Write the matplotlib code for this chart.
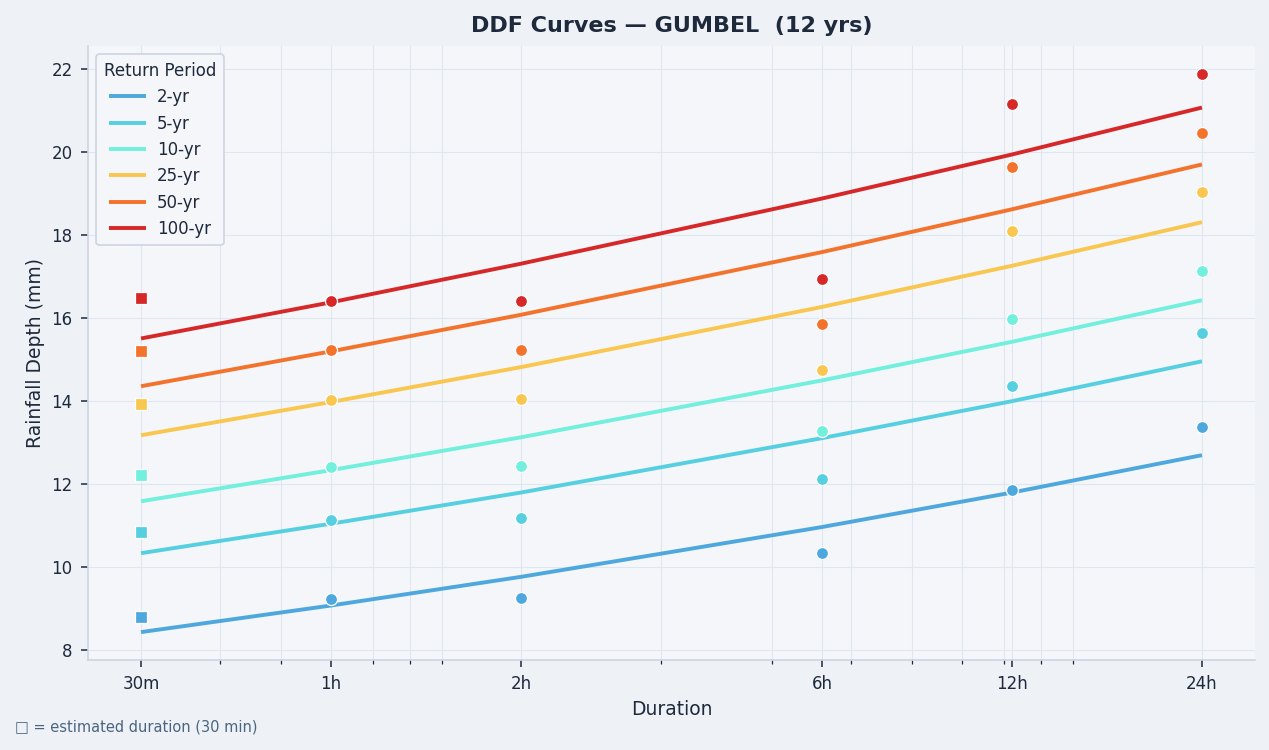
import matplotlib
matplotlib.use("Agg")
import matplotlib.pyplot as plt
from matplotlib.ticker import FixedLocator, FixedFormatter, LogLocator, NullFormatter

# Durations in minutes
durations = [30, 60, 120, 360, 720, 1440]
tick_labels = ["30m", "1h", "2h", "6h", "12h", "24h"]
periods = ["2-yr", "5-yr", "10-yr", "25-yr", "50-yr", "100-yr"]
colors = ["#4EA8DE", "#56CFE1", "#72EFDD", "#F9C74F", "#F3722C", "#D62828"]

# Observed depths (first value = estimated 30-min depth)
obs_2 = [8.79, 9.23, 9.25, 10.33, 11.85, 13.36]
obs_5 = [10.84, 11.13, 11.18, 12.11, 14.35, 15.64]
obs_10 = [12.21, 12.40, 12.43, 13.27, 15.98, 17.13]
obs_25 = [13.92, 14.01, 14.04, 14.75, 18.08, 19.03]
obs_50 = [15.19, 15.22, 15.22, 15.86, 19.64, 20.45]
obs_100 = [16.47, 16.40, 16.40, 16.94, 21.15, 21.87]

# Fitted DDF curve values at the same durations
fit_2 = [8.43, 9.07, 9.76, 10.96, 11.79, 12.69]
fit_5 = [10.33, 11.04, 11.79, 13.10, 13.99, 14.95]
fit_10 = [11.58, 12.33, 13.12, 14.49, 15.42, 16.42]
fit_25 = [13.17, 13.97, 14.81, 16.26, 17.25, 18.30]
fit_50 = [14.35, 15.19, 16.07, 17.58, 18.61, 19.69]
fit_100 = [15.50, 16.37, 17.30, 18.87, 19.93, 21.06]

obs = [obs_2, obs_5, obs_10, obs_25, obs_50, obs_100]
fits = [fit_2, fit_5, fit_10, fit_25, fit_50, fit_100]

text_c = "#1E293B"
fig = plt.figure(figsize=(12.69, 7.5), dpi=100, facecolor="#EEF2F7")
ax = fig.add_axes([88 / 1269, 1 - 660 / 750, (1255 - 88) / 1269, (660 - 46) / 750])
ax.set_facecolor("#F4F6FA")

for name, col, o, f in zip(periods, colors, obs, fits):
    ax.plot(durations, f, color=col, lw=2.8, label=name, zorder=3, solid_capstyle="butt")
    ax.scatter(durations[1:], o[1:], s=75, color=col, edgecolor="white", linewidth=0.9, zorder=4)
    ax.scatter(durations[:1], o[:1], s=75, marker="s", color=col, edgecolor="white", linewidth=0.9, zorder=4)

ax.set_xscale("log")
ax.xaxis.set_major_locator(FixedLocator(durations))
ax.xaxis.set_major_formatter(FixedFormatter(tick_labels))
ax.xaxis.set_minor_locator(LogLocator(base=10, subs="auto"))
ax.xaxis.set_minor_formatter(NullFormatter())

ax.grid(True, which="both", color="#DFE6EE", lw=0.8, zorder=0)
ax.set_axisbelow(True)
for s in ["top", "right"]:
    ax.spines[s].set_visible(False)
for s in ["left", "bottom"]:
    ax.spines[s].set_color("#CBD5E1")
    ax.spines[s].set_linewidth(1.2)

ax.tick_params(axis="both", which="major", labelsize=12, colors=text_c, length=5, width=1.1, pad=6)
ax.tick_params(axis="x", which="minor", length=3, width=0.9, colors=text_c)
ax.set_yticks([8, 10, 12, 14, 16, 18, 20, 22])

ax.set_xlabel("Duration", fontsize=13.5, color=text_c, labelpad=5)
ax.set_ylabel("Rainfall Depth (mm)", fontsize=13.5, color=text_c, labelpad=5)
ax.set_title("DDF Curves \u2014 GUMBEL  (12 yrs)", fontsize=16, fontweight="bold", color=text_c, pad=10)

leg = ax.legend(title="Return Period", loc="upper left", fontsize=12, title_fontsize=12,
                frameon=True, facecolor="#F4F6FA", edgecolor="#CBD5E1", framealpha=1,
                borderpad=0.45, handlelength=2.2, handletextpad=0.7, labelspacing=0.5)
leg.get_frame().set_linewidth(1.2)
for t in leg.get_texts():
    t.set_color(text_c)
leg.get_title().set_color(text_c)

fig.text(15 / 1269, 1 - 727 / 750, "\u25a1 = estimated duration (30 min)", fontsize=10.5,
         color="#4A6580", va="center", ha="left")

fig.savefig("out.png", dpi=100, facecolor=fig.get_facecolor())
